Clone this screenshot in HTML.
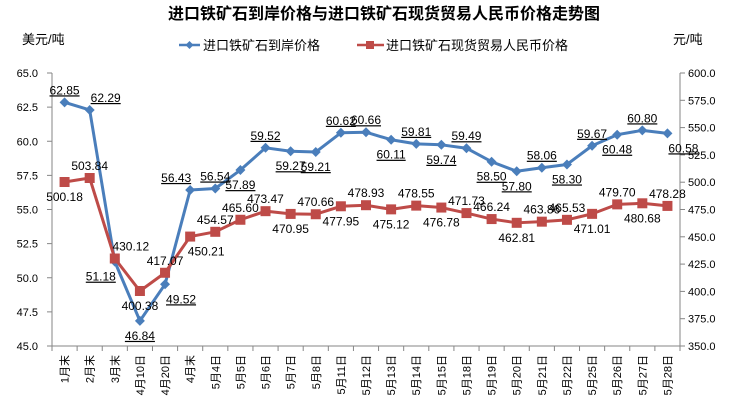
<!DOCTYPE html>
<html><head><meta charset="utf-8">
<style>
body{margin:0;background:#fff;}
svg{display:block;font-family:"Liberation Sans","Noto Sans CJK SC",sans-serif;}
</style></head>
<body>
<svg id="chart" width="748" height="411" viewBox="0 0 748 411" xmlns="http://www.w3.org/2000/svg">
<text x="384" y="19" text-anchor="middle" font-size="16" font-weight="bold" fill="#000">进口铁矿石到岸价格与进口铁矿石现货贸易人民币价格走势图</text>
<text x="22" y="44" font-size="13" fill="#000">美元/吨</text>
<text x="673" y="44" font-size="13" fill="#000">元/吨</text>
<g>
 <g>
  <line x1="179" y1="45" x2="200" y2="45" stroke="#4a7ebb" stroke-width="2.5"/>
  <path d="M189.5 41 L193.5 45 L189.5 49 L185.5 45 Z" fill="#4a7ebb"/>
  <text x="203" y="50" font-size="13">进口铁矿石到岸价格</text>
 </g>
 <g>
  <line x1="357" y1="45" x2="384" y2="45" stroke="#be4b48" stroke-width="2.5"/>
  <rect x="366" y="41" width="8" height="8" fill="#be4b48"/>
  <text x="386" y="50" font-size="13">进口铁矿石现货贸易人民币价格</text>
 </g>
</g>
<g id="axes"></g>
<g id="series"></g>
<g id="labels"></g>
</svg>
<script>
const categories=["1月末","2月末","3月末","4月10日","4月20日","4月末","5月4日","5月5日","5月6日","5月7日","5月8日","5月11日","5月12日","5月13日","5月14日","5月15日","5月18日","5月19日","5月20日","5月21日","5月22日","5月25日","5月26日","5月27日","5月28日"];
const usdPrices=[62.85,62.29,51.18,46.84,49.52,56.43,56.54,57.89,59.52,59.27,59.21,60.62,60.66,60.11,59.81,59.74,59.49,58.50,57.80,58.06,58.30,59.67,60.48,60.80,60.58];
const rmbPrices=[500.18,503.84,430.12,400.38,417.07,450.21,454.57,465.60,473.47,470.95,470.66,477.95,478.93,475.12,478.55,476.78,471.73,466.24,462.81,463.86,465.53,471.01,479.70,480.68,478.28];
const leftTicks=[45.0,47.5,50.0,52.5,55.0,57.5,60.0,62.5,65.0];
const rightTicks=[350.0,375.0,400.0,425.0,450.0,475.0,500.0,525.0,550.0,575.0,600.0];
const usdLabelPos=["u","ur","dl","d","dr","ul","u","d","u","d","d","u","u","d","u","d","u","d","d","u","d","u","d","u","dr"];
const rmbLabelPos=["d","u","ur","d","u","dr","u","u","u","d","u","d","u","d","u","d","u","u","d","u","u","d","u","d","u"];

const NS="http://www.w3.org/2000/svg";
const X0=52,X1=680,Y0=346,Y1=73;
const step=(X1-X0)/categories.length;
const xs=i=>X0+step*(i+0.5);
const yL=v=>Y0-(v-45)/(65-45)*(Y0-Y1);
const yR=v=>Y0-(v-350)/(600-350)*(Y0-Y1);
function mk(tag,attrs,parent){const e=document.createElementNS(NS,tag);for(const k in attrs)e.setAttribute(k,attrs[k]);parent.appendChild(e);return e;}
const axes=document.getElementById('axes'),series=document.getElementById('series'),labels=document.getElementById('labels');

let e=mk('line',{x1:X0,y1:Y1,x2:X0,y2:Y0,stroke:'#868686'},axes);


e=mk('line',{x1:X1,y1:Y1,x2:X1,y2:Y0,stroke:'#868686'},axes);


e=mk('line',{x1:X0,y1:Y0,x2:X1,y2:Y0,stroke:'#868686'},axes);



leftTicks.forEach(v=>{const y=yL(v);
 mk('line',{x1:X0-5,y1:y,x2:X0,y2:y,stroke:'#868686'},axes);
 const t=mk('text',{x:X0-14,y:y+4,'text-anchor':'end','font-size':11},axes);t.textContent=v.toFixed(1);
 
 
});
rightTicks.forEach(v=>{const y=yR(v);
 mk('line',{x1:X1,y1:y,x2:X1+5,y2:y,stroke:'#868686'},axes);
 const t=mk('text',{x:X1+8,y:y+4,'font-size':11},axes);t.textContent=v.toFixed(1);
 
 
});
for(let i=0;i<=categories.length;i++){const x=X0+step*i;mk('line',{x1:x,y1:Y0,x2:x,y2:Y0+5,stroke:'#868686'},axes);}
categories.forEach((c,i)=>{
 const x=xs(i)+4,y=Y0+9;
 const t=mk('text',{x:x,y:y,'font-size':11,'text-anchor':'end',transform:`rotate(-90 ${x} ${y})`},axes);t.textContent=c;
 
 
});

function drawSeries(vals,yf,color,name,marker){
 const pts=vals.map((v,i)=>xs(i)+','+yf(v)).join(' ');
 const l=mk('polyline',{points:pts,fill:'none',stroke:color,'stroke-width':3,'stroke-linejoin':'round'},series);
 
 
 vals.forEach((v,i)=>{const x=xs(i),y=yf(v);let m;
  if(marker==='d')m=mk('path',{d:`M${x} ${y-5}L${x+5} ${y}L${x} ${y+5}L${x-5} ${y}Z`,fill:color},series);
  else m=mk('rect',{x:x-5,y:y-5,width:10,height:10,fill:color},series);
  
  
 });
}
drawSeries(usdPrices,yL,'#4a7ebb','usd-price','d');
drawSeries(rmbPrices,yR,'#be4b48','rmb-price','s');

function drawLabels(vals,yf,pos,name,underline){
 vals.forEach((v,i)=>{const p=pos[i];let x=xs(i),y=yf(v);
  y+=p.includes('u')?-8:19;
  if(p.includes('l'))x-=14;if(p.includes('r'))x+=16;
  const t=mk('text',{x:x,y:y,'font-size':12,'text-anchor':'middle'},labels);
  if(underline)t.setAttribute('text-decoration','underline');
  t.textContent=v.toFixed(2);
  
  
 });
}
drawLabels(usdPrices,yL,usdLabelPos,'usd-price',true);
drawLabels(rmbPrices,yR,rmbLabelPos,'rmb-price',false);
</script>
</body></html>
